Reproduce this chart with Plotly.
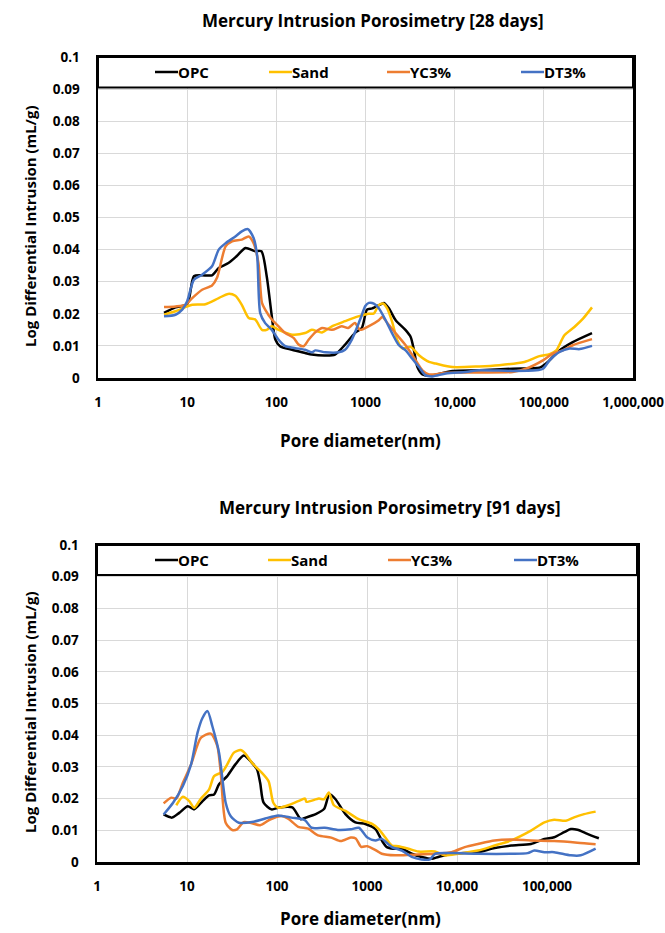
import plotly.graph_objects as go

# ---------------- data ----------------
series_names = ["OPC", "Sand", "YC3%", "DT3%"]
series_colors = ["#000000", "#FFC000", "#ED7D31", "#4472C4"]

# 28 days
opc28_x = [5.5, 7.4, 10, 11.9, 14.5, 19, 22.6, 29, 36, 45, 58, 68, 78, 88, 97.5, 110, 150, 210, 250, 355, 455, 590, 760, 910, 1040, 1190, 1540, 1610, 1830, 2180, 2820, 3210, 3500, 3820, 4350, 5170, 9480, 18800, 44700, 89500, 106000, 150000, 211000, 347000]
opc28_y = [0.0203, 0.022, 0.023, 0.0317, 0.032, 0.032, 0.0343, 0.0358, 0.038, 0.0405, 0.0395, 0.0395, 0.0317, 0.0203, 0.012, 0.0099, 0.0088, 0.0078, 0.0073, 0.007, 0.0073, 0.0104, 0.014, 0.0156, 0.0213, 0.0217, 0.0232, 0.0234, 0.0217, 0.018, 0.0149, 0.0128, 0.0086, 0.0034, 0.0011, 0.0007, 0.0022, 0.0024, 0.0029, 0.0032, 0.0045, 0.0086, 0.0112, 0.014]

sand28_x = [5.5, 7.4, 10, 11.4, 16, 22.6, 28.8, 34.7, 41, 49, 58, 69, 78, 89, 106, 150, 210, 250, 325, 420, 590, 830, 1080, 1240, 1410, 1570, 1750, 1990, 2270, 2590, 3210, 3980, 5160, 6130, 9480, 18800, 31600, 60500, 89500, 116000, 138000, 170000, 220000, 275000, 347000]
sand28_y = [0.0197, 0.0208, 0.0223, 0.0228, 0.023, 0.0249, 0.0262, 0.0256, 0.0228, 0.0187, 0.0182, 0.015, 0.015, 0.0161, 0.015, 0.0135, 0.014, 0.015, 0.0142, 0.0161, 0.0177, 0.0192, 0.02, 0.0201, 0.0227, 0.0232, 0.0217, 0.0175, 0.0118, 0.0092, 0.0097, 0.0071, 0.005, 0.0045, 0.0034, 0.0036, 0.004, 0.005, 0.0068, 0.0074, 0.0086, 0.0133, 0.0159, 0.0185, 0.022]

yc28_x = [5.5, 7.4, 9.6, 11.4, 14.7, 19, 21.6, 27, 31.9, 41, 49, 55.6, 63, 69, 75, 89, 106, 126, 156, 178, 202, 230, 273, 325, 420, 540, 640, 760, 870, 1080, 1410, 1540, 1830, 2180, 2820, 3660, 4350, 5160, 7960, 18800, 44700, 63000, 97700, 126000, 163000, 211000, 347000]
yc28_y = [0.0221, 0.0223, 0.0228, 0.0249, 0.0275, 0.0288, 0.0312, 0.041, 0.0426, 0.0431, 0.0441, 0.042, 0.0358, 0.0234, 0.0213, 0.0182, 0.0161, 0.014, 0.0125, 0.0104, 0.0099, 0.0119, 0.0142, 0.0156, 0.015, 0.0161, 0.0156, 0.0171, 0.015, 0.0161, 0.018, 0.019, 0.0165, 0.0139, 0.0102, 0.0055, 0.0024, 0.0011, 0.0016, 0.0017, 0.0019, 0.0029, 0.0055, 0.0076, 0.0086, 0.0102, 0.0121]

dt28_x = [5.5, 7.4, 8.8, 10, 11.9, 14.7, 19, 22.6, 27, 34.7, 41, 48, 55.6, 61, 66, 75, 89, 106, 126, 164, 210, 250, 273, 355, 500, 590, 700, 870, 1000, 1090, 1240, 1410, 1680, 1990, 2370, 2820, 3350, 3980, 4730, 5630, 7960, 13400, 18800, 44700, 82000, 97700, 116000, 150000, 194000, 252000, 347000]
dt28_y = [0.0192, 0.0197, 0.0213, 0.0239, 0.0306, 0.0322, 0.0348, 0.04, 0.042, 0.0441, 0.0457, 0.0464, 0.0436, 0.0379, 0.0202, 0.0171, 0.015, 0.0119, 0.0099, 0.0093, 0.0088, 0.008, 0.0086, 0.008, 0.008, 0.0088, 0.0119, 0.0182, 0.0225, 0.0234, 0.0232, 0.0217, 0.018, 0.0139, 0.0102, 0.0086, 0.006, 0.0034, 0.0008, 0.0005, 0.0014, 0.0019, 0.0024, 0.0022, 0.0024, 0.0029, 0.0055, 0.0081, 0.0092, 0.009, 0.01]

# 91 days
opc91_x = [5.5, 6.8, 8.2, 10.2, 12, 14.9, 17.6, 20, 22.7, 28, 34.5, 42.7, 52.7, 60, 65, 71, 87, 106, 148, 184, 208, 269, 333, 383, 447, 576, 743, 958, 1240, 1460, 1660, 1970, 2440, 3140, 4050, 5230, 6200, 8700, 17100, 26200, 40000, 66400, 93700, 120000, 155000, 184000, 218000, 281000, 377000]
opc91_y = [0.015, 0.014, 0.0155, 0.0176, 0.0166, 0.0192, 0.021, 0.0213, 0.0245, 0.0271, 0.0308, 0.0336, 0.0313, 0.0292, 0.025, 0.0187, 0.0166, 0.0172, 0.0172, 0.0135, 0.014, 0.0151, 0.0167, 0.0214, 0.0198, 0.0151, 0.0125, 0.012, 0.0104, 0.0068, 0.0047, 0.0042, 0.0042, 0.0026, 0.0016, 0.001, 0.0016, 0.0026, 0.0031, 0.0044, 0.0052, 0.0057, 0.0073, 0.0078, 0.0094, 0.0104, 0.0102, 0.0089, 0.0075]

sand91_x = [7.6, 9.0, 10.6, 12, 14.3, 17.6, 20, 24.7, 28, 33.2, 39.3, 44.5, 52.7, 65, 80.5, 91, 103, 133, 172, 205, 212, 292, 333, 377, 429, 576, 809, 1140, 1350, 1590, 1890, 2240, 2880, 3720, 5690, 7330, 10300, 17100, 26200, 40000, 66400, 93700, 120000, 162000, 200000, 258000, 347000]
sand91_y = [0.0179, 0.0206, 0.0192, 0.0171, 0.02, 0.0229, 0.0271, 0.0284, 0.0308, 0.0345, 0.0353, 0.0342, 0.0313, 0.0287, 0.0255, 0.0187, 0.0171, 0.0179, 0.0192, 0.02, 0.019, 0.02, 0.0198, 0.0219, 0.0179, 0.0161, 0.0135, 0.012, 0.0104, 0.0078, 0.0052, 0.005, 0.0042, 0.0033, 0.0033, 0.0021, 0.0026, 0.0036, 0.0052, 0.0068, 0.0099, 0.0125, 0.0133, 0.013, 0.0141, 0.0151, 0.0159]

yc91_x = [5.5, 6.7, 7.6, 9, 11.1, 14.3, 18.4, 21.7, 23.7, 26.9, 31.8, 36, 42.7, 52.7, 65, 83.7, 113, 133, 172, 222, 285, 400, 512, 660, 750, 860, 1010, 1290, 1460, 2060, 3140, 5690, 8700, 12200, 17100, 26200, 40000, 66400, 120000, 218000, 347000]
yc91_y = [0.0185, 0.0203, 0.02, 0.025, 0.0308, 0.0392, 0.0405, 0.0366, 0.0282, 0.0124, 0.0101, 0.0103, 0.0126, 0.0122, 0.0116, 0.0134, 0.0145, 0.0137, 0.0111, 0.0105, 0.0084, 0.0077, 0.0066, 0.0077, 0.0074, 0.0048, 0.005, 0.0035, 0.0026, 0.0021, 0.0023, 0.0026, 0.0031, 0.0047, 0.0057, 0.0068, 0.0071, 0.0068, 0.0066, 0.0061, 0.0056]

dt91_x = [5.5, 7, 9, 11.1, 13.1, 14.9, 16.9, 19.1, 22.7, 26.9, 30.5, 37.6, 52.7, 74, 103, 145, 204, 242, 339, 474, 660, 812, 1010, 1240, 1460, 1890, 2440, 3140, 4050, 5000, 5690, 8700, 17100, 40000, 61000, 72300, 93700, 120000, 184000, 237000, 347000]
dt91_y = [0.015, 0.0187, 0.024, 0.0308, 0.0408, 0.0455, 0.0476, 0.0429, 0.0345, 0.0187, 0.0145, 0.0124, 0.0126, 0.0137, 0.0147, 0.014, 0.0132, 0.0108, 0.0108, 0.0101, 0.0103, 0.0108, 0.0077, 0.0068, 0.0073, 0.0047, 0.0036, 0.0016, 0.0008, 0.0008, 0.0026, 0.0028, 0.0026, 0.0026, 0.0028, 0.0036, 0.0031, 0.0031, 0.0021, 0.0021, 0.0042]

x_tickvals = [1, 10, 100, 1000, 10000, 100000, 1000000]
x_ticktext = ["1", "10", "100", "1000", "10,000", "100,000", "1,000,000"]
y_tickvals = [0, 0.01, 0.02, 0.03, 0.04, 0.05, 0.06, 0.07, 0.08, 0.09, 0.1]
y_ticktext = ["0", "0.01", "0.02", "0.03", "0.04", "0.05", "0.06", "0.07", "0.08", "0.09", "0.1"]

titles = ["Mercury Intrusion Porosimetry [28 days]", "Mercury Intrusion Porosimetry [91 days]"]
x_title = "Pore diameter(nm)"
y_title = "Log Differential Intrusion (mL/g)"

charts = [
    [(opc28_x, opc28_y), (sand28_x, sand28_y), (yc28_x, yc28_y), (dt28_x, dt28_y)],
    [(opc91_x, opc91_y), (sand91_x, sand91_y), (yc91_x, yc91_y), (dt91_x, dt91_y)],
]

# ---------------- layout ----------------
W, H = 665, 933
FONT = "Open Sans, sans-serif"

# plot boxes in pixels (left, right, top, bottom)
boxes = [(98, 633, 57, 378), (97, 637, 545, 862)]
title_pos = [(373, 21), (390, 508)]
xtitle_pos = [(360, 440), (360, 918)]
ytitle_pos = [(30, 226), (30, 712)]
legend_y = [72, 560]
legend_x = [[155, 269, 387, 521], [155, 268, 388, 514]]

fig = go.Figure()
annotations = []
shapes = []

for i, chart in enumerate(charts):
    l, r, t, b = boxes[i]
    xa = "xaxis" if i == 0 else "xaxis2"
    ya = "yaxis" if i == 0 else "yaxis2"
    xr = "x" if i == 0 else "x2"
    yr = "y" if i == 0 else "y2"
    for k, (xs, ys) in enumerate(chart):
        fig.add_trace(go.Scatter(
            x=xs, y=ys, mode="lines", name=series_names[k],
            line=dict(color=series_colors[k], width=2.5, shape="spline", smoothing=0.7),
            xaxis=xr, yaxis=yr, showlegend=False, hoverinfo="skip"))
    fig.layout[xa] = dict(
        type="log", range=[0, 6], domain=[l / W, r / W],
        tickvals=x_tickvals, ticktext=x_ticktext,
        showgrid=True, gridcolor="#d9d9d9", gridwidth=1,
        showline=True, linecolor="black", linewidth=2.5, mirror=True,
        ticks="", ticklabelstandoff=10, zeroline=False, automargin=False,
        tickfont=dict(family=FONT, size=13.5, color="black", weight="bold"),
        anchor=yr, fixedrange=True)
    fig.layout[ya] = dict(
        range=[0, 0.1], domain=[1 - b / H, 1 - t / H],
        tickvals=y_tickvals, ticktext=y_ticktext,
        showgrid=True, gridcolor="#d9d9d9", gridwidth=1,
        showline=True, linecolor="black", linewidth=2.5, mirror=True,
        ticks="", ticklabelstandoff=13, zeroline=False, automargin=False,
        tickfont=dict(family=FONT, size=13.5, color="black", weight="bold"),
        anchor=xr, fixedrange=True)

    # legend box inside the top of the plot
    shapes.append(dict(type="rect", xref=xr + " domain", yref=yr,
                       x0=0, x1=1, y0=0.0905, y1=0.1,
                       fillcolor="white", line=dict(color="black", width=2),
                       layer="above"))
    for k in range(4):
        lx = legend_x[i][k]
        ly = 1 - legend_y[i] / H
        shapes.append(dict(type="line", xref="paper", yref="paper",
                           x0=lx / W, x1=(lx + 23) / W, y0=ly, y1=ly,
                           line=dict(color=series_colors[k], width=2.5),
                           layer="above"))
        annotations.append(dict(text=series_names[k], xref="paper", yref="paper",
                                x=(lx + 23) / W, y=ly, xanchor="left", yanchor="middle",
                                showarrow=False, xshift=-2,
                                font=dict(family=FONT, size=15, color="black", weight="bold")))

    annotations.append(dict(text=titles[i], xref="paper", yref="paper",
                            x=title_pos[i][0] / W, y=1 - title_pos[i][1] / H,
                            xanchor="center", yanchor="middle", showarrow=False,
                            font=dict(family=FONT, size=17, color="black", weight="bold")))
    annotations.append(dict(text=x_title, xref="paper", yref="paper",
                            x=xtitle_pos[i][0] / W, y=1 - xtitle_pos[i][1] / H,
                            xanchor="center", yanchor="middle", showarrow=False,
                            font=dict(family=FONT, size=17, color="black", weight="bold")))
    annotations.append(dict(text=y_title, xref="paper", yref="paper",
                            x=ytitle_pos[i][0] / W, y=1 - ytitle_pos[i][1] / H,
                            xanchor="center", yanchor="middle", showarrow=False, textangle=-90,
                            font=dict(family=FONT, size=15, color="black", weight="bold")))

fig.update_layout(
    template="none",
    width=W, height=H, margin=dict(l=0, r=0, t=0, b=0, autoexpand=False),
    paper_bgcolor="white", plot_bgcolor="white",
    annotations=annotations, shapes=shapes, showlegend=False)

fig.write_html("out.html", config={"displayModeBar": False, "staticPlot": True},
               post_script="document.body.style.margin='0';document.body.style.padding='0';document.body.style.overflow='hidden';")
